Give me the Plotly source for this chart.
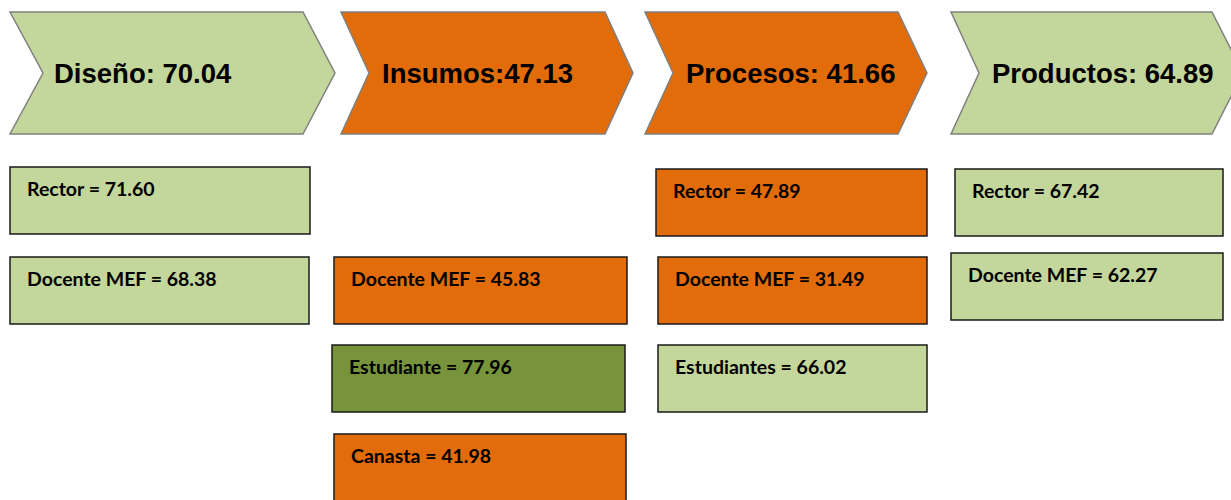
import plotly.graph_objects as go

# ---------------- data ----------------
stages = ["Diseño", "Insumos", "Procesos", "Productos"]
stage_scores = [70.04, 47.13, 41.66, 64.89]
stage_separators = [": ", ":", ": ", ": "]

diseno_groups = ["Rector", "Docente MEF"]
diseno_values = [71.60, 68.38]
insumos_groups = ["Docente MEF", "Estudiante", "Canasta"]
insumos_values = [45.83, 77.96, 41.98]
procesos_groups = ["Rector", "Docente MEF", "Estudiantes"]
procesos_values = [47.89, 31.49, 66.02]
productos_groups = ["Rector", "Docente MEF"]
productos_values = [67.42, 62.27]

# ---------------- layout geometry (pixels) ----------------
W, H = 1231, 500
chev_left = [10, 341, 645, 951]
chev_right = [303, 605, 898, 1212]
chev_tip = [32, 28, 29, 31]
chev_notch = [33, 28, 28, 28]
chev_top, chev_bot = 12, 134
chev_text_right = [234, 575, 897, 1216]

box_geom = [
    [(10, 310, 167, 234), (10, 309, 257, 324)],
    [(334, 627, 257, 324), (332, 625, 345, 412), (334, 626, 434, 505)],
    [(656, 927, 169, 236), (658, 927, 257, 324), (658, 927, 345, 412)],
    [(955, 1223, 169, 236), (951, 1223, 253, 320)],
]

LIGHT_GREEN = "#C3D69B"
ORANGE = "#E36C0A"
OLIVE = "#77933C"


def fill_for(v):
    if v < 50:
        return ORANGE
    if v < 75:
        return LIGHT_GREEN
    return OLIVE


fig = go.Figure()
fig.add_trace(go.Scatter(x=[0, W], y=[0, H], mode="markers",
                         marker=dict(opacity=0), hoverinfo="skip", showlegend=False))

shapes = []
annotations = []

# chevrons
for i, (name, score, sep) in enumerate(zip(stages, stage_scores, stage_separators)):
    x0, x1 = chev_left[i], chev_right[i]
    mid = (chev_top + chev_bot) / 2
    path = (f"M {x0},{chev_top} L {x1},{chev_top} L {x1 + chev_tip[i]},{mid} "
            f"L {x1},{chev_bot} L {x0},{chev_bot} L {x0 + chev_notch[i]},{mid} Z")
    shapes.append(dict(type="path", path=path, xref="x", yref="y",
                       fillcolor=fill_for(score),
                       line=dict(color="#808080", width=1.5), layer="below"))
    annotations.append(dict(x=chev_text_right[i], y=mid, xref="x", yref="y",
                            text=f"<b>{name}{sep}{score:.2f}</b>", showarrow=False,
                            xanchor="right", yanchor="middle",
                            font=dict(family="Liberation Sans, Arial", size=27.5, color="#000000")))

# respondent boxes
columns = [
    (diseno_groups, diseno_values),
    (insumos_groups, insumos_values),
    (procesos_groups, procesos_values),
    (productos_groups, productos_values),
]
for ci, (groups, values) in enumerate(columns):
    for bi, (g, v) in enumerate(zip(groups, values)):
        bx0, bx1, by0, by1 = box_geom[ci][bi]
        shapes.append(dict(type="rect", x0=bx0, x1=bx1, y0=by0, y1=by1, xref="x", yref="y",
                           fillcolor=fill_for(v),
                           line=dict(color="#1a1a1a", width=1.5), layer="below"))
        annotations.append(dict(x=bx0 + 15, y=by0 + 21, xref="x", yref="y",
                                text=f"<b>{g} = {v:.2f}</b>", showarrow=False,
                                xanchor="left", yanchor="middle",
                                font=dict(family="Lato, Carlito, Calibri", size=19.5, color="#000000")))

fig.update_layout(
    width=W, height=H,
    margin=dict(l=0, r=0, t=0, b=0),
    paper_bgcolor="white", plot_bgcolor="white",
    shapes=shapes, annotations=annotations,
    xaxis=dict(range=[0, W], visible=False, fixedrange=True),
    yaxis=dict(range=[H, 0], visible=False, fixedrange=True),
    showlegend=False,
)

fig.write_html("out.html", config={"displayModeBar": False},
               post_script="document.body.style.margin='0';document.body.style.overflow='hidden';")
